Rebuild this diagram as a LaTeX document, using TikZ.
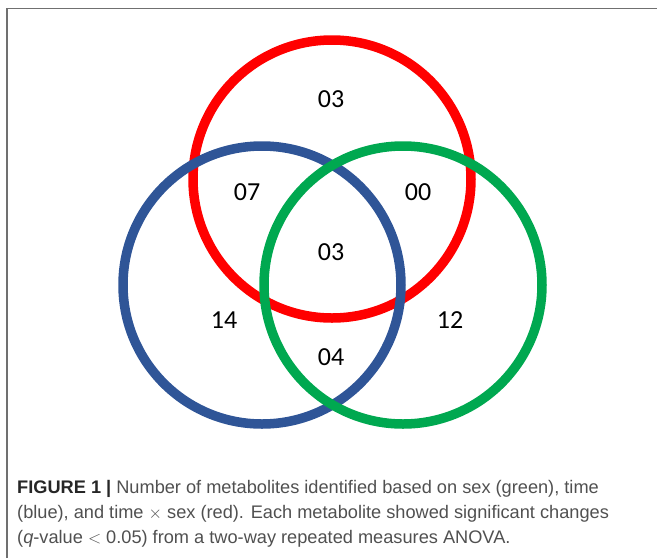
\documentclass[tikz,border=0pt]{standalone}
\usepackage{fontspec}
\setmainfont{Liberation Sans}
\newfontfamily\numfont{Carlito}
\usepackage{xcolor}
\usetikzlibrary{positioning}
\definecolor{ringred}{HTML}{FF0000}
\definecolor{ringblue}{HTML}{2F5597}
\definecolor{ringgreen}{HTML}{00A850}
\definecolor{framegray}{HTML}{707070}
\definecolor{captext}{HTML}{505050}

\begin{document}
\begin{tikzpicture}[x=1pt, y=-1pt,
  ring/.style={draw, circle, line width=9.5pt, minimum size=278pt, inner sep=0pt},
  cnt/.style={font=\fontsize{26}{30}\numfont, inner sep=0pt},
  captxt/.style={font=\fontsize{18.2}{25}\selectfont, text=captext, align=left, anchor=north west, inner sep=0pt}
]
\useasboundingbox (0,0) rectangle (657,558);
\coordinate (fbl) at (7,558);
\coordinate (ftl) at (7,8.5);
\coordinate (ftr) at (657,8.5);
\draw[framegray, line width=1.5pt] (fbl) -- (ftl) -- (ftr);
\node[ring, draw=ringred]   (tsx)  at (332,179) {};
\node[ring, draw=ringblue]  (time) at (262,285) {};
\node[ring, draw=ringgreen] (sex)  at (403,285) {};
\node[cnt] (n-r)   at (331,99)  {03};
\node[cnt] (n-rb)  at (247,192) {07};
\node[cnt] (n-rg)  at (418,192) {00};
\node[cnt] (n-rbg) at (331,252) {03};
\node[cnt] (n-b)   at (224,320) {14};
\node[cnt] (n-g)   at (450,320) {12};
\node[cnt] (n-bg)  at (331,357) {04};
\node[captxt] (cap) at (17,479.8) {{\color{black!85}\textbf{FIGURE 1 |}} Number of metabolites identified based on sex (green), time\\
(blue), and time $\times$ sex (red). Each metabolite showed significant changes\\
(\textit{q}-value $<$ 0.05) from a two-way repeated measures ANOVA.};
\end{tikzpicture}
\end{document}
